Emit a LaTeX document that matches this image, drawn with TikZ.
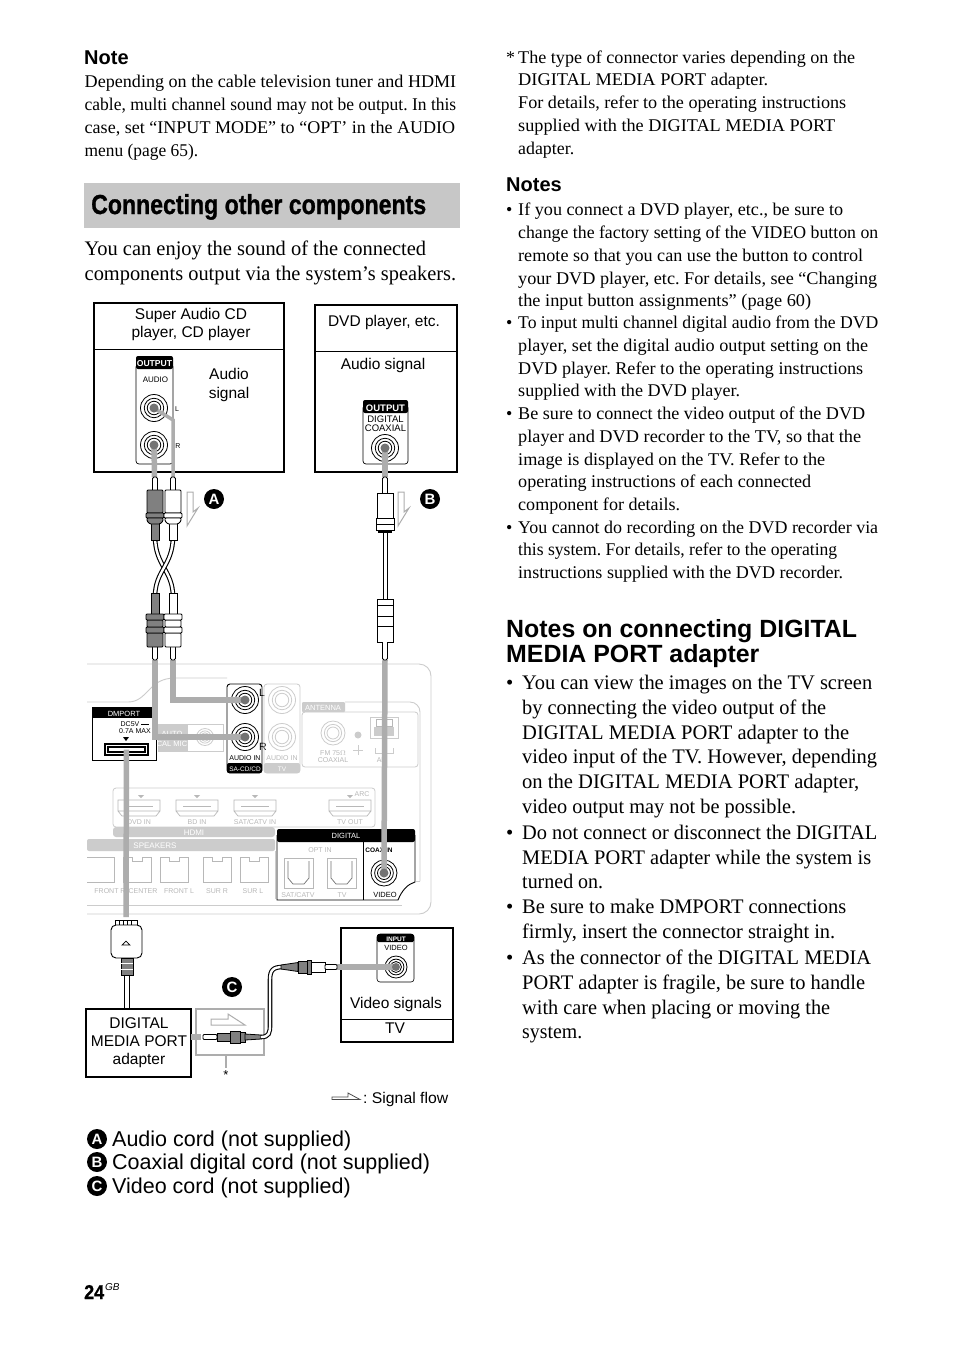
\documentclass[tikz,border=0pt]{standalone}
\usepackage{fontspec}
\setmainfont{Liberation Serif}
\setsansfont{Liberation Sans}
\newfontfamily\titlef{Liberation Sans}[UprightFont=* Bold,FakeBold=1.0]
\frenchspacing
\newcounter{tn}
\definecolor{sig}{gray}{0.68}
\definecolor{lite}{gray}{0.80}
\definecolor{litet}{gray}{0.72}
\definecolor{plugd}{gray}{0.50}
\newcommand\tl[4]{\stepcounter{tn}\node[anchor=base west,inner sep=0pt] (t\thetn) at (#1,#2) {\fontsize{#3}{#3}\selectfont #4};}
\newcommand\fl[5]{\stepcounter{tn}\pgfmathsetmacro\fw{#4-#1}\node[anchor=base west,inner sep=0pt] (t\thetn) at (#1,#2) {\resizebox{\fw pt}{\height}{\fontsize{#3}{#3}\selectfont #5}};}
\newcommand\sfl[4]{\tl{#1}{#2}{#3}{\sffamily #4}}
\newcommand\ctr[5][black]{\stepcounter{tn}\node[anchor=base,inner sep=0pt,text=#1] (t\thetn) at (#2,#3) {\fontsize{#4}{#4}\selectfont\sffamily #5};}
\newcommand\jack[5][black]{%
 \node[circle,draw=#1,line width=.8pt,minimum size=#5*2pt,inner sep=0pt] (#2) at (#3,#4) {};
 \draw[#1,line width=.8pt] (#2.center) circle[radius=#5*.72pt];
 \draw[#1,line width=.8pt] (#2.center) circle[radius=#5*.5pt];}
% upper RCA plug: tip at top, then head, ring, taper
\newcommand\rca[4]{%
 \begin{scope}[shift={(#1,#2)},rotate=#3,line width=.9pt,draw=black]
 \draw[fill=white,rounded corners=1.5pt] (-2.5,13) -- (-2.5,0) -- (2.5,0) -- (2.5,13);
 \draw[fill=#4] (-4,46) -- (-4,63) -- (4,63) -- (4,46) -- cycle;
 \draw[fill=#4,rounded corners=1pt] (-8,13) rectangle (8,36);
 \draw[fill=#4,rounded corners=1pt] (-9,36) rectangle (9,41);
 \draw[fill=#4,rounded corners=1pt] (-8,41) -- (-8,44) -- (-5,47) -- (5,47) -- (8,44) -- (8,41) -- cycle;
 \end{scope}}
% lower RCA plug: tip at bottom
\newcommand\rcb[3]{%
 \begin{scope}[shift={(#1,660)},line width=.9pt,draw=black]
 \draw[fill=white,rounded corners=1.5pt] (-2.5,-13) -- (-2.5,0) -- (2.5,0) -- (2.5,-13);
 \draw[fill=#3] (-4,-45) -- (-4,-67) -- (4,-67) -- (4,-45) -- cycle;
 \draw[fill=#3,rounded corners=1pt] (-8,-13) rectangle (8,-27);
 \draw[fill=#3,rounded corners=1pt] (-9,-27) rectangle (9,-33);
 \draw[fill=#3,rounded corners=1pt] (-8,-33) rectangle (8,-40);
 \draw[fill=#3,rounded corners=1pt] (-9,-40) rectangle (9,-46);
 \end{scope}}
\newcommand\hdmi[1]{\draw[litet,line width=.7pt] (#1,800) rectangle ++(42,11) (#1,811) -- ++(4,5) -- ++(34,0) -- ++(4,-5);
 \draw[litet,line width=.6pt] (#1+7,806) -- ++(28,0);}
\newcommand\spk[1]{\draw[lite!90!black,line width=.7pt] (#1,857) -- ++(9,0) -- ++(0,4) -- ++(10,0) -- ++(0,-4) -- ++(9,0) -- ++(0,25) -- ++(-28,0) -- cycle;}
\newcommand\optp[1]{\draw[litet,line width=.8pt] (#1,858) rectangle ++(29,30);
 \draw[black!55,line width=.7pt] (#1+4,861) -- ++(0,17) -- ++(5,6) -- ++(11,0) -- ++(5,-6) -- ++(0,-17);}
\newcommand\arrowA[1]{\draw[sig,line width=1pt,fill=white] (#1,492) -- (#1+6,492) -- (#1+6,512) -- (#1+11,508) -- (#1,526) -- cycle;}
\tikzset{
 x=1pt,y=-1pt,
 lab/.style={circle,fill=black,text=white,inner sep=0pt,minimum size=20pt,font=\fontsize{15}{15}\selectfont\sffamily\bfseries},
 frame/.style={draw=black,line width=2pt,outer sep=0pt},
 thinframe/.style={draw=black,line width=1.2pt,outer sep=0pt},
 sigline/.style={sig,line width=5.5pt},
 litebox/.style={draw=lite,line width=.8pt},
 cablea/.style={line width=4.6pt,black},
 cableb/.style={line width=2.4pt,white},
}
\begin{document}
\begin{tikzpicture}
\useasboundingbox (0,0) rectangle (954,1352);
\fill[white] (0,0) rectangle (954,1352);
%% left column text
\tl{84}{64}{20}{\sffamily\bfseries Note}
\fl{84.5}{87}{17.9}{456}{Depending on the cable television tuner and HDMI}
\fl{84.5}{110}{17.9}{456}{cable, multi channel sound may not be output. In this}
\fl{84.5}{133}{17.9}{455}{case, set “INPUT MODE” to “OPT’ in the AUDIO}
\fl{84.5}{156}{17.9}{198}{menu (page 65).}
\node[fill=black!22,minimum width=376pt,minimum height=45pt,inner sep=0pt,outer sep=0pt,anchor=north west] (titlebar) at (84,183) {};
\fl{91}{214}{27.5}{426}{\titlef Connecting other components}
\fl{84.5}{255}{20.7}{426}{You can enjoy the sound of the connected}
\fl{84.5}{280}{20.7}{456}{components output via the system’s speakers.}
%% right column text
\tl{506}{63}{17.9}{*}
\fl{518}{63}{17.9}{855}{The type of connector varies depending on the}
\fl{518}{85}{17.9}{768}{DIGITAL MEDIA PORT adapter.}
\fl{518}{108}{17.9}{846}{For details, refer to the operating instructions}
\fl{518}{131}{17.9}{835}{supplied with the DIGITAL MEDIA PORT}
\fl{518}{154}{17.9}{574}{adapter.}
\tl{506}{191}{20}{\sffamily\bfseries Notes}
\tl{506}{215}{17.9}{•}
\fl{518}{215}{17.9}{843}{If you connect a DVD player, etc., be sure to}
\fl{518}{238}{17.9}{878}{change the factory setting of the VIDEO button on}
\fl{518}{261}{17.9}{863}{remote so that you can use the button to control}
\fl{518}{284}{17.9}{877}{your DVD player, etc. For details, see “Changing}
\fl{518}{306}{17.9}{811}{the input button assignments” (page 60)}
\tl{506}{328}{17.9}{•}
\fl{518}{328}{17.9}{878}{To input multi channel digital audio from the DVD}
\fl{518}{351}{17.9}{868}{player, set the digital audio output setting on the}
\fl{518}{374}{17.9}{863}{DVD player. Refer to the operating instructions}
\fl{518}{396}{17.9}{740}{supplied with the DVD player.}
\tl{506}{419}{17.9}{•}
\fl{518}{419}{17.9}{865}{Be sure to connect the video output of the DVD}
\fl{518}{442}{17.9}{861}{player and DVD recorder to the TV, so that the}
\fl{518}{465}{17.9}{825}{image is displayed on the TV. Refer to the}
\fl{518}{487}{17.9}{811}{operating instructions of each connected}
\fl{518}{510}{17.9}{680}{component for details.}
\tl{506}{533}{17.9}{•}
\fl{518}{533}{17.9}{878}{You cannot do recording on the DVD recorder via}
\fl{518}{555}{17.9}{837}{this system. For details, refer to the operating}
\fl{518}{578}{17.9}{843}{instructions supplied with the DVD recorder.}
\tl{506}{637}{24.9}{\sffamily\bfseries Notes on connecting DIGITAL}
\tl{506}{662}{24.9}{\sffamily\bfseries MEDIA PORT adapter}
\tl{506}{689}{20.7}{•}
\fl{522}{689}{20.7}{872}{You can view the images on the TV screen}
\fl{522}{714}{20.7}{826}{by connecting the video output of the}
\fl{522}{739}{20.7}{849}{DIGITAL MEDIA PORT adapter to the}
\fl{522}{763}{20.7}{877}{video input of the TV. However, depending}
\fl{522}{788}{20.7}{859}{on the DIGITAL MEDIA PORT adapter,}
\fl{522}{813}{20.7}{796}{video output may not be possible.}
\tl{506}{839}{20.7}{•}
\fl{522}{839}{20.7}{877}{Do not connect or disconnect the DIGITAL}
\fl{522}{864}{20.7}{871}{MEDIA PORT adapter while the system is}
\fl{522}{888}{20.7}{603}{turned on.}
\tl{506}{913}{20.7}{•}
\fl{522}{913}{20.7}{846}{Be sure to make DMPORT connections}
\fl{522}{938}{20.7}{835}{firmly, insert the connector straight in.}
\tl{506}{964}{20.7}{•}
\fl{522}{964}{20.7}{871}{As the connector of the DIGITAL MEDIA}
\fl{522}{989}{20.7}{865}{PORT adapter is fragile, be sure to handle}
\fl{522}{1014}{20.7}{830}{with care when placing or moving the}
\fl{522}{1038}{20.7}{582}{system.}
%% source boxes
\node[frame,minimum width=190.5pt,minimum height=169pt,inner sep=0pt,anchor=north west] (sacd) at (93.5,303) {};
\draw[line width=.8pt] (93.5,349.5) -- (284,349.5);
\ctr{191}{319}{15.5}{Super Audio CD}
\ctr{191}{337}{15.5}{player, CD player}
\ctr{229}{379}{15.5}{Audio}
\ctr{229}{398}{15.5}{signal}
\draw[line width=.7pt,rounded corners=3pt] (136,364) rectangle (173,464);
\fill[black,rounded corners=2pt] (136,356) rectangle (173,369);
\ctr[white]{154.5}{366.5}{8.6}{\bfseries OUTPUT}
\ctr{155.5}{382}{8}{AUDIO}
\jack{outL}{154}{408}{13.5}
\jack{outR}{154}{445}{13.5}
\ctr{177}{411}{7}{L}
\ctr{178}{448}{7}{R}
\node[frame,minimum width=142pt,minimum height=167pt,inner sep=0pt,anchor=north west] (dvd) at (314.5,305) {};
\draw[line width=.8pt] (314.5,351) -- (456.5,351);
\ctr{384}{326}{15.5}{DVD player, etc.}
\ctr{383}{369}{15.5}{Audio signal}
\draw[line width=.7pt,rounded corners=3pt] (363,405) rectangle (408,464);
\fill[black,rounded corners=2pt] (363,400) rectangle (408,413);
\ctr[white]{385.5}{411}{9.5}{\bfseries OUTPUT}
\ctr{385.5}{422}{9.5}{DIGITAL}
\ctr{385.5}{431}{9.5}{COAXIAL}
\jack{outV}{385}{448}{13.5}
%% receiver
\draw[lite,line width=.9pt,rounded corners=12pt] (87,664) -- (431,664) -- (431,914) -- (87,914);
\draw[lite,line width=.9pt] (87,702) -- (128,702) .. controls (148,702) and (148,678) .. (175,678) -- (227,678);
\draw[lite,line width=.9pt,rounded corners=10pt] (345,702) -- (420,702) -- (420,881) ;
\draw[lite,line width=.9pt] (87,905) -- (402,905);
\draw[lite,line width=.9pt] (420,881) -- (416,881);
% DMPORT
\draw[line width=.9pt] (92,714) rectangle (156,760);
\fill[black] (92,707) rectangle (156,718);
\ctr[white]{124}{716}{7.5}{DMPORT}
\ctr{135}{726}{7}{DC5V \rule[1.8pt]{8pt}{.6pt}}
\ctr{135}{733}{7}{0.7A MAX}
\fill (123,737) -- (129,737) -- (126,741) -- cycle;
\node[draw=black,line width=1.4pt,outer sep=0pt,minimum width=43pt,minimum height=11pt,inner sep=0pt,anchor=north west] (dmslot) at (105,744) {};
\draw[line width=1.2pt,fill=white] (108,747) rectangle (145,752);
% AUTO CAL MIC
\draw[litebox] (158,724) rectangle (223,751);
\fill[lite] (158,724) rectangle (188,751);
\ctr[white]{172}{736}{7.5}{AUTO}
\ctr[white]{172}{746}{7.5}{CAL MIC}
\jack[lite]{micj}{205}{737}{8.5}
% Audio in SA-CD
\draw[line width=.9pt,rounded corners=3pt] (227,684) rectangle (262,773);
\fill[black,rounded corners=2pt] (227,763) rectangle (262,773);
\ctr[white]{245}{771}{6.5}{SA-CD/CD}
\ctr{245}{760}{7}{AUDIO IN}
\jack{inL}{245}{700}{13.5}
\jack{inR}{245}{737}{13.5}
\ctr{262}{696}{10.5}{L}
\ctr{263}{750}{10.5}{R}
% Audio in TV
\draw[litebox,rounded corners=3pt] (264,684) rectangle (300,773);
\fill[lite,rounded corners=2pt] (264,763) rectangle (300,773);
\ctr[white]{282}{771}{6.5}{TV}
\ctr[litet]{282}{760}{7}{AUDIO IN}
\jack[lite]{tvL}{282}{700}{13.5}
\jack[lite]{tvR}{282}{737}{13.5}
% Antenna
\draw[litebox,rounded corners=3pt] (302,712) rectangle (418,767);
\fill[lite,rounded corners=1pt] (302,702) rectangle (345,712);
\ctr[white]{323}{710}{7.5}{ANTENNA}
\jack[lite]{fmj}{333}{733}{12}
\node[circle,fill=lite,minimum size=7pt,inner sep=0pt] (gnd) at (358,735) {};
\draw[lite,line width=.7pt] (358,745) -- (358,755) (353,750) -- (363,750);
\ctr[litet]{333}{755}{7}{FM 75$\Omega$}
\ctr[litet]{333}{762}{7}{COAXIAL}
\draw[lite,line width=1pt] (370,717) rectangle (398,738);
\fill[lite] (374,727) rectangle (394,736);
\draw[litet,line width=.8pt] (376,719) rectangle (384,726) (385,719) rectangle (392,726);
\draw[lite,line width=.7pt] (375,748) -- (375,753) -- (393,753) -- (393,748);
\ctr[litet]{382}{762}{7}{AM}
% HDMI
\draw[litebox,rounded corners=3pt] (113,788) rectangle (375,827);
\fill[lite,rounded corners=3pt] (113,827) rectangle (275,837);
\ctr[white]{194}{835}{8}{HDMI}
\hdmi{118}\hdmi{176}\hdmi{234}\hdmi{329}
\ctr[litet]{139}{824}{7}{DVD IN}
\ctr[litet]{197}{824}{7}{BD IN}
\ctr[litet]{255}{824}{7}{SAT/CATV IN}
\ctr[litet]{350}{824}{7}{TV OUT}
\ctr[litet]{362}{796}{7}{ARC}
\fill[litet] (138,795) -- (144,795) -- (141,798) -- cycle (194,795) -- (200,795) -- (197,798) -- cycle (252,795) -- (258,795) -- (255,798) -- cycle (347,795) -- (353,795) -- (350,798) -- cycle;
% Speakers
\fill[lite,rounded corners=2pt] (87,839) rectangle (275,851);
\ctr[white]{155}{848}{8}{SPEAKERS}
\draw[litebox] (275,851) -- (275,899);
\draw[lite!90!black,line width=.7pt] (87,857) -- (114,857) -- (114,882) -- (87,882);
\spk{123}\spk{160}\spk{203}\spk{240}
\ctr[litet]{110}{893}{7}{FRONT R}
\ctr[litet]{143}{893}{7}{CENTER}
\ctr[litet]{179}{893}{7}{FRONT L}
\ctr[litet]{217}{893}{7}{SUR R}
\ctr[litet]{253}{893}{7}{SUR L}
% Digital
\draw[line width=.9pt] (277,835) -- (277,900) -- (398,900) .. controls (402,890) and (408,884) .. (415,882) -- (415,835);
\fill[black,rounded corners=2pt] (277,829) rectangle (415,842);
\draw[line width=.9pt] (363,842) -- (363,900);
\ctr[white]{346}{838}{7.5}{DIGITAL}
\ctr[litet]{320}{852}{7}{OPT IN}
\ctr{379}{852}{6.5}{\bfseries COAX IN}
\optp{284}\optp{327}
\ctr[litet]{298}{897}{7}{SAT/CATV}
\ctr[litet]{342}{897}{7}{TV}
\jack{coaxj}{384}{873}{13}
\ctr{385}{897}{7.5}{VIDEO}
%% signal lines
\draw[sigline] (outR.center) -- (154.5,477);
\draw[sigline,line width=3.5pt] (outL.center) -- (173,420) -- (173,477);
\draw[sigline] (outV.center) -- (385,477);
\coordinate (kneeR) at (155,737);
\coordinate (kneeL) at (173,700);
\draw[sigline] (155,660) -- (kneeR) -- (inR.center);
\draw[sigline] (173,660) -- (kneeL) -- (inL.center);
\draw[sigline] (385,660) -- (coaxj.center);
\draw[sigline] (dmslot.center) -- (126,917);
\foreach \j in {outL,outR,outV,inL,inR,coaxj} \fill[black!55] (\j.center) circle[radius=4.5pt];
%% cables A, B
\draw[cablea] (155,536) .. controls (155,566) and (173,570) .. (173,597);
\draw[cableb] (155,536) .. controls (155,566) and (173,570) .. (173,597);
\draw[cablea] (173,536) .. controls (173,566) and (155,570) .. (155,597);
\draw[cableb] (173,536) .. controls (173,566) and (155,570) .. (155,597);
\rca{155}{477}{0}{plugd}
\rca{173}{477}{0}{white}
\rcb{155}{0}{plugd}
\rcb{173}{0}{white}
% coaxial plugs
\draw[line width=1pt,fill=white] (383,530) rectangle (387,600);
\begin{scope}[line width=.9pt]
\draw[fill=white,rounded corners=1.5pt] (382.5,493) -- (382.5,477) -- (387.5,477) -- (387.5,493);
\draw[fill=white] (377,493) rectangle (393,518);
\draw[fill=white] (376,518) rectangle (394,530);
\draw[line width=.7pt] (376,524) -- (394,524);
\fill[black] (378,530) rectangle (392,532.5);
\draw[fill=white] (377,599) rectangle (393,642);
\draw[line width=.7pt] (377,605) -- (393,605) (377,616) -- (393,616) (377,626) -- (393,626);
\draw[fill=white,rounded corners=1.5pt] (382.5,642) -- (382.5,660) -- (387.5,660) -- (387.5,642);
\end{scope}
\arrowA{187}\arrowA{398}
\node[lab] (A) at (214,499) {A};
\node[lab] (B) at (430,499) {B};
\node[lab] (C) at (232,987) {C};
%% DMPORT connector
\draw[line width=.9pt,fill=white] (115,920) rectangle (137,926);
\foreach \x in {119,123,127,131} \draw[line width=.6pt] (\x,920) -- (\x,926);
\draw[line width=.9pt,fill=white,rounded corners=5pt] (111,925) -- (142,925) -- (142,958) -- (111,958) -- cycle;
\draw[line width=.7pt] (122,945) -- (126,941) -- (130,945) -- cycle;
\draw[line width=.8pt,fill=plugd] (121,958) rectangle (133,975);
\draw[white,line width=.8pt] (121,963) -- (133,963) (121,969) -- (133,969);
\node[thinframe,minimum width=105pt,minimum height=68pt,inner sep=0pt,anchor=north west] (adapter) at (86,1009) {};
\draw[line width=1pt] (124.5,975) -- (124.5,1009) (129,975) -- (129,1009);
\ctr{139}{1028}{15.5}{DIGITAL}
\ctr{139}{1046}{15.5}{MEDIA PORT}
\ctr{139}{1064}{15.5}{adapter}
%% star box
\node[draw=sig,line width=1.6pt,outer sep=0pt,minimum width=68pt,minimum height=46pt,inner sep=0pt,anchor=north west] (starbox) at (196,1009) {};
\draw[sig,line width=1pt,fill=white] (211,1019) -- (228,1019) -- (228,1014) -- (245,1025) -- (211,1025) -- cycle;
\coordinate (starend) at (226,1068);
\draw[sig,line width=1.2pt] (starend|-starbox.south) -- (starend);
\ctr{226}{1079}{13}{*}
\coordinate (mini) at (217,1037);
\draw[sigline] (adapter.east|-mini) -- (201,1037);
\draw[line width=.8pt,fill=white,rounded corners=1pt] (203,1034.5) rectangle (217,1039.5);
\draw[line width=.8pt,fill=plugd] (217,1033) rectangle (230,1041);
\draw[line width=.8pt,fill=plugd] (230,1031) rectangle (240,1043);
\draw[line width=.8pt,fill=plugd] (240,1032) rectangle (245,1042);
\draw[line width=.8pt,fill=plugd] (245,1034) -- (261,1035) -- (261,1039) -- (245,1040) -- cycle;
%% TV
\node[thinframe,minimum width=112pt,minimum height=114pt,inner sep=0pt,anchor=north west] (tv) at (341,928) {};
\draw[line width=.8pt] (341,1019) -- (453,1019);
\draw[line width=.6pt,rounded corners=3pt] (377,934) rectangle (414,982);
\fill[black,rounded corners=1.5pt] (377,934) rectangle (414,942);
\ctr[white]{396}{941}{6.5}{\bfseries INPUT}
\ctr{396}{950}{7.5}{VIDEO}
\jack{tvj}{396}{967}{11}
\draw[sigline] (337,967) -- (tvj.center);
\fill[black!55] (tvj.center) circle[radius=4pt];
\ctr{396}{1008}{15.5}{Video signals}
\ctr{395}{1033}{15.5}{TV}
%% cable C
\draw[cablea] (261,1037) .. controls (269,1037) and (270,1033) .. (270,1025) -- (270,980) .. controls (270,970) and (273,967) .. (283,967);
\draw[cableb] (261,1037) .. controls (269,1037) and (270,1033) .. (270,1025) -- (270,980) .. controls (270,970) and (273,967) .. (283,967);
\begin{scope}[line width=.8pt]
\draw[fill=plugd] (281,965) -- (298,962.5) -- (298,971.5) -- (281,969) -- cycle;
\draw[fill=plugd] (298,961) rectangle (307,973);
\draw[fill=plugd] (307,960) rectangle (311,974);
\draw[fill=white] (311,962) rectangle (325,972);
\draw[fill=white,rounded corners=1pt] (325,964.5) rectangle (337,969.5);
\end{scope}
%% signal flow legend
\draw[black!70,line width=.8pt,fill=white] (332,1097) -- (348,1097) -- (348,1093) -- (360,1099.5) -- (332,1099.5) -- cycle;
\fl{363}{1103}{15.5}{448}{\sffamily : Signal flow}
%% legend list
\node[lab] (la) at (97,1139) {A};
\node[lab] (lb) at (97,1162) {B};
\node[lab] (lc) at (97,1186) {C};
\sfl{112}{1146}{21.5}{Audio cord (not supplied)}
\sfl{112}{1169}{21.5}{Coaxial digital cord (not supplied)}
\sfl{112}{1193}{21.5}{Video cord (not supplied)}
%% page number
\fl{84}{1299}{20}{104}{\titlef 24}
\tl{105}{1290}{10}{\sffamily\itshape GB}
\end{tikzpicture}
\end{document}
